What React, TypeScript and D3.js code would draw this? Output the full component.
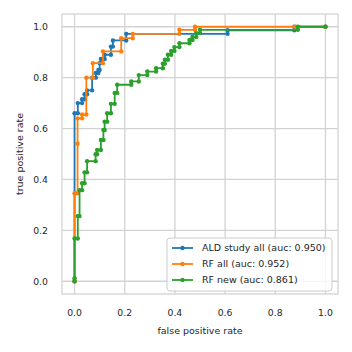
import React, { useRef, useEffect } from 'react';
import * as d3 from 'd3';

type Pt = [number, number];

// ROC points as (false positive rate, true positive rate)
const aldStudyAll: Pt[] = [
  [0, 0], [0, 0.66], [0.013, 0.66], [0.013, 0.70], [0.03, 0.70], [0.03, 0.715],
  [0.04, 0.715], [0.04, 0.735], [0.05, 0.735], [0.05, 0.75], [0.07, 0.75],
  [0.07, 0.80], [0.085, 0.80], [0.085, 0.818], [0.095, 0.818], [0.095, 0.83],
  [0.10, 0.83], [0.10, 0.857], [0.105, 0.857], [0.105, 0.873], [0.12, 0.873],
  [0.12, 0.89], [0.145, 0.89], [0.145, 0.922], [0.153, 0.922], [0.153, 0.946],
  [0.206, 0.946], [0.206, 0.972], [0.61, 0.972], [0.61, 0.986], [0.876, 0.986],
  [0.876, 1.0], [1, 1],
];

const rfAll: Pt[] = [
  [0, 0], [0, 0.346], [0.012, 0.346], [0.012, 0.54], [0.012, 0.64], [0.03, 0.64],
  [0.03, 0.655], [0.047, 0.655], [0.047, 0.80], [0.073, 0.80], [0.073, 0.857],
  [0.113, 0.857], [0.113, 0.903], [0.186, 0.903], [0.186, 0.955], [0.232, 0.955],
  [0.232, 0.972], [0.418, 0.972], [0.418, 0.988], [0.48, 0.988], [0.48, 1.0],
  [0.88, 1.0], [1, 1],
];

const rfNew: Pt[] = [
  [0, 0], [0, 0.012], [0, 0.168], [0.013, 0.168], [0.013, 0.256], [0.02, 0.256],
  [0.02, 0.358], [0.03, 0.358], [0.03, 0.385], [0.04, 0.385], [0.04, 0.428],
  [0.05, 0.428], [0.05, 0.472], [0.084, 0.472], [0.084, 0.499], [0.09, 0.499],
  [0.09, 0.516], [0.105, 0.516], [0.105, 0.555], [0.115, 0.555], [0.115, 0.594],
  [0.12, 0.594], [0.12, 0.627], [0.13, 0.627], [0.13, 0.66], [0.145, 0.66],
  [0.145, 0.697], [0.16, 0.697], [0.16, 0.74], [0.17, 0.74], [0.17, 0.772],
  [0.226, 0.772], [0.226, 0.785], [0.256, 0.785], [0.256, 0.81], [0.29, 0.81],
  [0.29, 0.824], [0.325, 0.824], [0.325, 0.837], [0.352, 0.837], [0.352, 0.855],
  [0.36, 0.855], [0.36, 0.87], [0.372, 0.87], [0.372, 0.89], [0.385, 0.89],
  [0.385, 0.905], [0.398, 0.905], [0.398, 0.92], [0.418, 0.92], [0.418, 0.935],
  [0.458, 0.935], [0.458, 0.948], [0.47, 0.948], [0.47, 0.96], [0.485, 0.96],
  [0.485, 0.975], [0.5, 0.975], [0.5, 0.988], [0.89, 0.988], [0.89, 1.0], [1, 1],
];

const seriesNames = ['ALD study all (auc: 0.950)', 'RF all (auc: 0.952)', 'RF new (auc: 0.861)'];
const seriesColors = ['#1f77b4', '#ff7f0e', '#2ca02c'];
const ticks = [0, 0.2, 0.4, 0.6, 0.8, 1.0];

export default function App() {
  const svgRef = useRef<SVGSVGElement>(null);

  useEffect(() => {
    if (!svgRef.current) return;
    const svg = d3.select(svgRef.current);
    svg.selectAll('*').remove();

    const left = 62, right = 338, top = 14, bottom = 294;
    const font = 'DejaVu Sans, sans-serif';
    const textColor = '#262626';
    const gridColor = '#d3d3d3';

    const x = d3.scaleLinear().domain([-0.05, 1.05]).range([left, right]);
    const y = d3.scaleLinear().domain([-0.05, 1.05]).range([bottom, top]);

    // Grid
    const grid = svg.append('g');
    ticks.forEach(t => {
      grid.append('line')
        .attr('x1', x(t)).attr('x2', x(t)).attr('y1', top).attr('y2', bottom)
        .attr('stroke', gridColor).attr('stroke-width', 1.3);
      grid.append('line')
        .attr('y1', y(t)).attr('y2', y(t)).attr('x1', left).attr('x2', right)
        .attr('stroke', gridColor).attr('stroke-width', 1.3);
    });

    // Frame
    svg.append('rect')
      .attr('x', left).attr('y', top)
      .attr('width', right - left).attr('height', bottom - top)
      .attr('fill', 'none').attr('stroke', gridColor).attr('stroke-width', 1.3);

    // Tick labels
    svg.append('g').selectAll('text').data(ticks).enter().append('text')
      .attr('x', d => x(d)).attr('y', bottom + 22)
      .attr('text-anchor', 'middle')
      .style('font-family', font).style('font-size', '9.3px').style('fill', textColor)
      .text(d => d.toFixed(1));
    svg.append('g').selectAll('text').data(ticks).enter().append('text')
      .attr('x', left - 14).attr('y', d => y(d)).attr('dy', '0.35em')
      .attr('text-anchor', 'end')
      .style('font-family', font).style('font-size', '9.3px').style('fill', textColor)
      .text(d => d.toFixed(1));

    // Axis titles
    svg.append('text')
      .attr('x', (left + right) / 2).attr('y', 334)
      .attr('text-anchor', 'middle')
      .style('font-family', font).style('font-size', '9.5px').style('fill', textColor)
      .text('false positive rate');
    svg.append('text')
      .attr('transform', `translate(23,${(top + bottom) / 2}) rotate(-90)`)
      .attr('text-anchor', 'middle')
      .style('font-family', font).style('font-size', '9.5px').style('fill', textColor)
      .text('true positive rate');

    // Curves
    const line = d3.line<Pt>().x(d => x(d[0])).y(d => y(d[1]));
    [aldStudyAll, rfAll, rfNew].forEach((pts, i) => {
      const g = svg.append('g');
      g.append('path').datum(pts)
        .attr('d', line)
        .attr('fill', 'none')
        .attr('stroke', seriesColors[i])
        .attr('stroke-width', 1.8);
      g.selectAll('circle').data(pts).enter().append('circle')
        .attr('cx', d => x(d[0])).attr('cy', d => y(d[1]))
        .attr('r', 2.2)
        .attr('fill', seriesColors[i]);
    });

    // Legend
    const lx = 167, ly = 238, lw = 165, lh = 53;
    const legend = svg.append('g');
    legend.append('rect')
      .attr('x', lx).attr('y', ly).attr('width', lw).attr('height', lh)
      .attr('rx', 3)
      .attr('fill', 'white').attr('fill-opacity', 0.8)
      .attr('stroke', '#cccccc').attr('stroke-width', 1);
    seriesNames.forEach((name, i) => {
      const yy = ly + 10 + i * 16;
      legend.append('line')
        .attr('x1', lx + 5).attr('x2', lx + 26).attr('y1', yy).attr('y2', yy)
        .attr('stroke', seriesColors[i]).attr('stroke-width', 1.8);
      legend.append('circle')
        .attr('cx', lx + 15.5).attr('cy', yy).attr('r', 2.2)
        .attr('fill', seriesColors[i]);
      legend.append('text')
        .attr('x', lx + 35).attr('y', yy).attr('dy', '0.35em')
        .style('font-family', font).style('font-size', '9.5px').style('fill', textColor)
        .text(name);
    });
  }, []);

  return (
    <svg
      ref={svgRef}
      width={352}
      height={352}
      style={{ position: 'absolute', left: 0, top: 0, background: 'white' }}
    />
  );
}
